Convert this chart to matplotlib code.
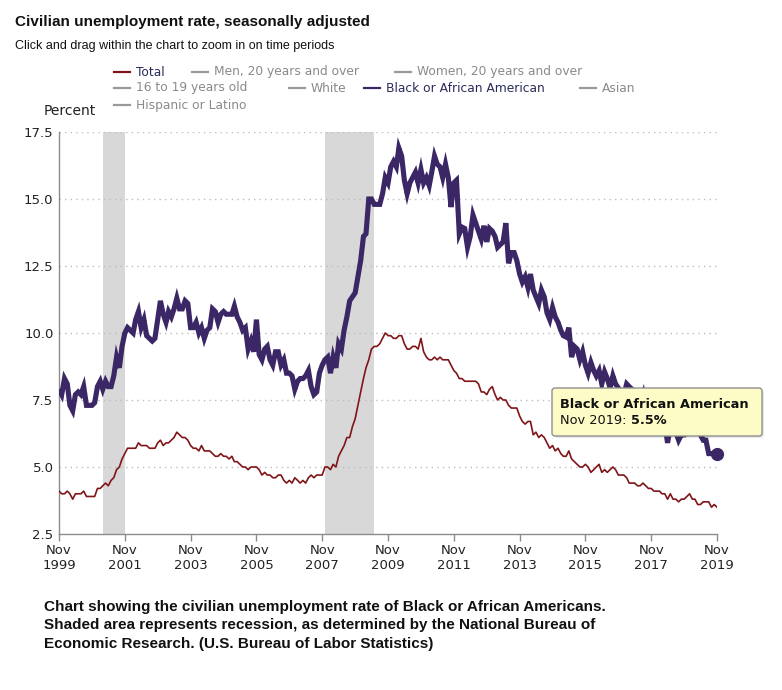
import matplotlib
matplotlib.use("Agg")
import matplotlib.pyplot as plt
from matplotlib.patches import FancyBboxPatch
import pandas as pd

# ---------------- data ----------------
start_month = "1999-11-01"
n_months = 241

total_rate = [
    4.1, 4.0,
    4.0, 4.1, 4.0, 3.8, 4.0, 4.0, 4.0, 4.1, 3.9, 3.9, 3.9, 3.9,
    4.2, 4.2, 4.3, 4.4, 4.3, 4.5, 4.6, 4.9, 5.0, 5.3, 5.5, 5.7,
    5.7, 5.7, 5.7, 5.9, 5.8, 5.8, 5.8, 5.7, 5.7, 5.7, 5.9, 6.0,
    5.8, 5.9, 5.9, 6.0, 6.1, 6.3, 6.2, 6.1, 6.1, 6.0, 5.8, 5.7,
    5.7, 5.6, 5.8, 5.6, 5.6, 5.6, 5.5, 5.4, 5.4, 5.5, 5.4, 5.4,
    5.3, 5.4, 5.2, 5.2, 5.1, 5.0, 5.0, 4.9, 5.0, 5.0, 5.0, 4.9,
    4.7, 4.8, 4.7, 4.7, 4.6, 4.6, 4.7, 4.7, 4.5, 4.4, 4.5, 4.4,
    4.6, 4.5, 4.4, 4.5, 4.4, 4.6, 4.7, 4.6, 4.7, 4.7, 4.7, 5.0,
    5.0, 4.9, 5.1, 5.0, 5.4, 5.6, 5.8, 6.1, 6.1, 6.5, 6.8, 7.3,
    7.8, 8.3, 8.7, 9.0, 9.4, 9.5, 9.5, 9.6, 9.8, 10.0, 9.9, 9.9,
    9.8, 9.8, 9.9, 9.9, 9.6, 9.4, 9.4, 9.5, 9.5, 9.4, 9.8, 9.3,
    9.1, 9.0, 9.0, 9.1, 9.0, 9.1, 9.0, 9.0, 9.0, 8.8, 8.6, 8.5,
    8.3, 8.3, 8.2, 8.2, 8.2, 8.2, 8.2, 8.1, 7.8, 7.8, 7.7, 7.9,
    8.0, 7.7, 7.5, 7.6, 7.5, 7.5, 7.3, 7.2, 7.2, 7.2, 6.9, 6.7,
    6.6, 6.7, 6.7, 6.2, 6.3, 6.1, 6.2, 6.1, 5.9, 5.7, 5.8, 5.6,
    5.7, 5.5, 5.4, 5.4, 5.6, 5.3, 5.2, 5.1, 5.0, 5.0, 5.1, 5.0,
    4.8, 4.9, 5.0, 5.1, 4.8, 4.9, 4.8, 4.9, 5.0, 4.9, 4.7, 4.7,
    4.7, 4.6, 4.4, 4.4, 4.4, 4.3, 4.3, 4.4, 4.3, 4.2, 4.2, 4.1,
    4.1, 4.1, 4.0, 4.0, 3.8, 4.0, 3.8, 3.8, 3.7, 3.8, 3.8, 3.9,
    4.0, 3.8, 3.8, 3.6, 3.6, 3.7, 3.7, 3.7, 3.5, 3.6, 3.5,
]

black_rate = [
    7.9, 7.7,
    8.3, 8.1, 7.3, 7.1, 7.7, 7.8, 7.7, 8.0, 7.3, 7.3, 7.3, 7.4,
    8.0, 8.2, 7.9, 8.2, 8.0, 8.0, 8.4, 9.1, 8.7, 9.5, 10.0, 10.2,
    10.1, 10.0, 10.5, 10.8, 10.2, 10.5, 9.9, 9.8, 9.7, 9.8, 10.5, 11.2,
    10.7, 10.4, 10.8, 10.6, 10.9, 11.3, 10.9, 10.9, 11.2, 11.1, 10.2, 10.2,
    10.4, 10.0, 10.2, 9.8, 10.1, 10.2, 10.9, 10.8, 10.4, 10.7, 10.8, 10.7,
    10.7, 10.7, 11.0, 10.6, 10.4, 10.1, 10.2, 9.4, 9.7, 9.3, 10.5, 9.2,
    9.0, 9.4, 9.5, 9.0, 8.8, 9.3, 9.3, 8.8, 9.0, 8.5, 8.5, 8.4,
    7.9, 8.2, 8.3, 8.3, 8.4, 8.6, 8.0, 7.7, 7.8, 8.5, 8.8, 9.0,
    9.1, 8.5, 9.1, 8.7, 9.6, 9.4, 10.1, 10.6, 11.2, 11.35, 11.5, 12.1,
    12.7, 13.6, 13.7, 15.0, 15.0, 14.8, 14.8, 14.8, 15.2, 15.8, 15.6, 16.2,
    16.4, 16.2, 16.9, 16.6, 15.7, 15.2, 15.6, 15.8, 16.0, 15.6, 16.1, 15.6,
    15.8, 15.5, 16.0, 16.6, 16.3, 16.2, 15.8, 16.3, 15.8, 14.7, 15.6, 15.7,
    13.7, 13.95, 13.9, 13.2, 13.6, 14.4, 14.1, 13.8, 13.5, 14.0, 13.4, 13.9,
    13.8, 13.6, 13.2, 13.3, 13.4, 14.1, 12.6, 13.0, 13.0, 12.7, 12.2, 11.9,
    12.1, 11.7, 12.2, 11.6, 11.35, 11.1, 11.6, 11.35, 10.75, 10.5, 10.95, 10.6,
    10.4, 10.1, 9.9, 9.85, 10.2, 9.1, 9.5, 9.4, 9.0, 9.3, 8.8, 8.5,
    8.9, 8.6, 8.4, 8.6, 8.1, 8.55, 8.3, 7.95, 8.4, 8.1, 7.95, 7.8,
    7.7, 8.1, 8.0, 7.9, 7.6, 7.1, 7.4, 7.7, 7.0, 7.5, 7.3, 6.8,
    7.7, 6.9, 6.9, 6.6, 5.9, 6.5, 6.6, 6.3, 6.0, 6.2, 6.2, 6.6,
    6.8, 7.0, 6.7, 6.7, 6.2, 6.0, 6.0, 5.5, 5.5, 5.5, 5.5,
]

recessions = [("2001-03-01", "2001-11-01"), ("2007-12-01", "2009-06-01")]
tick_years = [1999, 2001, 2003, 2005, 2007, 2009, 2011, 2013, 2015, 2017, 2019]
y_ticks = [2.5, 5.0, 7.5, 10.0, 12.5, 15.0, 17.5]

legend_rows = [
    ["Total", "Men, 20 years and over", "Women, 20 years and over"],
    ["16 to 19 years old", "White", "Black or African American", "Asian"],
    ["Hispanic or Latino"],
]

# ---------------- figure ----------------
W, H = 782, 690
fig = plt.figure(figsize=(W / 100, H / 100), dpi=100)


def fx(px):
    return px / W


def fy(py):
    return 1 - py / H


ax = fig.add_axes([fx(59), fy(534), fx(717) - fx(59), fy(132) - fy(534)])

dates = pd.date_range(start_month, periods=n_months, freq="MS")

BLACK_COL = "#3b2766"
TOTAL_COL = "#801519"
GRAY_TXT = "#8a8a8a"
NAVY_TXT = "#2b2b5a"

for a, b in recessions:
    ax.axvspan(pd.Timestamp(a), pd.Timestamp(b), color="#d8d8d8", lw=0, zorder=0)

ax.plot(dates, total_rate, color=TOTAL_COL, lw=1.2, zorder=3)
ax.plot(dates, black_rate, color=BLACK_COL, lw=3.7, zorder=4,
        solid_joinstyle="miter", solid_capstyle="butt")
ax.plot([dates[-1]], [black_rate[-1]], "o", color=BLACK_COL, ms=8.5, zorder=5,
        clip_on=False)

ax.set_xlim(dates[0], dates[-1])
ax.set_ylim(2.5, 17.5)
ax.set_yticks(y_ticks)
ax.set_yticklabels([f"{v:.1f}" for v in y_ticks])
for v in y_ticks[1:]:
    ax.axhline(v, color="#bdbdbd", lw=1.0, ls=(0, (1, 3)), zorder=1)

xt = [pd.Timestamp(f"{y}-11-01") for y in tick_years]
ax.set_xticks(xt)
ax.set_xticklabels([f"Nov\n{y}" for y in tick_years])

for s in ["top", "right"]:
    ax.spines[s].set_visible(False)
for s in ["left", "bottom"]:
    ax.spines[s].set_color("#8c8c8c")
    ax.spines[s].set_linewidth(1.0)

ax.tick_params(axis="y", length=0, pad=4, labelsize=9.5, labelcolor="#222222")
ax.tick_params(axis="x", length=5, width=1, color="#8c8c8c", pad=2,
               labelsize=9.5, labelcolor="#222222")
for lab in ax.get_xticklabels():
    lab.set_linespacing(1.25)

# ---------------- titles ----------------
fig.text(fx(15), fy(22), "Civilian unemployment rate, seasonally adjusted",
         family="Liberation Sans", weight="bold", fontsize=11.0,
         va="center", ha="left", color="#111111")
fig.text(fx(15), fy(46), "Click and drag within the chart to zoom in on time periods",
         family="Liberation Sans", fontsize=9.0, va="center", ha="left", color="#111111")
fig.text(fx(44), fy(111), "Percent", fontsize=10, va="center", ha="left", color="#222222")

# ---------------- legend ----------------
row_y = [72, 88, 105]
row_x = [[114, 192, 395], [114, 289, 364, 580], [114]]
for r, names in enumerate(legend_rows):
    for name, x0 in zip(names, row_x[r]):
        if name == "Total":
            lc, tc = TOTAL_COL, NAVY_TXT
        elif name == "Black or African American":
            lc, tc = BLACK_COL, NAVY_TXT
        else:
            lc, tc = "#999999", GRAY_TXT
        fig.add_artist(plt.Line2D([fx(x0), fx(x0 + 16)], [fy(row_y[r]), fy(row_y[r])],
                                  color=lc, lw=1.6, transform=fig.transFigure))
        fig.text(fx(x0 + 22), fy(row_y[r]), name, fontsize=8.8, color=tc,
                 va="center", ha="left")

# ---------------- tooltip ----------------
shadow = FancyBboxPatch((fx(554), fy(438)), fx(762) - fx(552), fy(388) - fy(436),
                        boxstyle="round,pad=0,rounding_size=0.004",
                        transform=fig.transFigure, facecolor="#00000018",
                        edgecolor="none", zorder=9)
fig.add_artist(shadow)
box = FancyBboxPatch((fx(552), fy(436)), fx(762) - fx(552), fy(388) - fy(436),
                     boxstyle="round,pad=0,rounding_size=0.004",
                     transform=fig.transFigure, facecolor="#fdfcc6",
                     edgecolor="#8f8f8f", lw=1.0, zorder=10)
fig.add_artist(box)
fig.text(fx(560), fy(404), "Black or African American", weight="bold",
         fontsize=9.3, va="center", ha="left", color="#111111", zorder=11)
t1 = fig.text(fx(560), fy(421), "Nov 2019: ", fontsize=9.3, va="center",
              ha="left", color="#111111", zorder=11)
fig.canvas.draw()
bb = t1.get_window_extent()
fig.text(bb.x1 / W, fy(421), "5.5%", weight="bold", fontsize=9.3, va="center",
         ha="left", color="#111111", zorder=11)

# ---------------- caption ----------------
caption_lines = [
    "Chart showing the civilian unemployment rate of Black or African Americans.",
    "Shaded area represents recession, as determined by the National Bureau of",
    "Economic Research. (U.S. Bureau of Labor Statistics)",
]
for i, line in enumerate(caption_lines):
    fig.text(fx(44), fy(607 + 18.5 * i), line, family="Liberation Sans", weight="bold",
             fontsize=11.0, va="center", ha="left", color="#111111")

fig.savefig("out.png", dpi=100, facecolor="white")
